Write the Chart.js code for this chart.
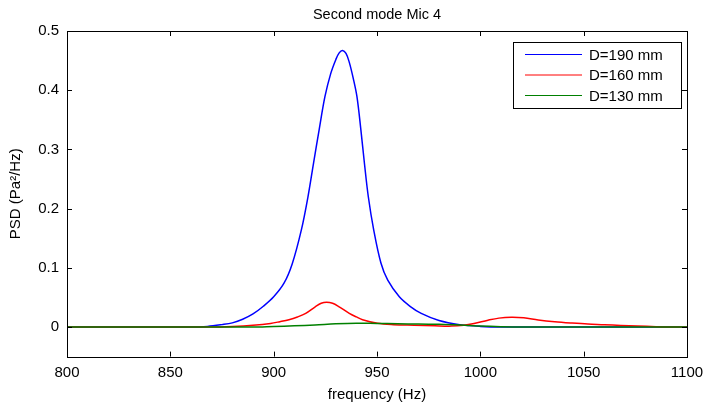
<!DOCTYPE html>
<html>
<head>
<meta charset="utf-8">
<script src="https://cdn.jsdelivr.net/npm/chart.js"></script>
<style>
  html, body { margin: 0; padding: 0; background: #fff; }
  #wrap { width: 703px; height: 407px; }
</style>
</head>
<body>
<div id="wrap"><canvas id="psd" width="703" height="407"></canvas></div>
<script>
// data
const seriesLabels = ["D=190 mm", "D=160 mm", "D=130 mm"];
const seriesColors = ["#0000ff", "#ff0000", "#008000"];

const freq190 = [800, 860, 868, 875, 880, 885, 890, 895, 900, 905, 909, 913.4, 916.6, 919.3, 922.0, 924.8, 927.6, 930.1, 931.7, 933.3, 935, 936.6, 938.5, 940.3, 942.2, 943.9, 945.8, 948.4, 951.9, 955.2, 960.8, 966, 971.4, 980, 990, 1000, 1010, 1100];
const psd190  = [0, 0, 0.001, 0.004, 0.007, 0.013, 0.022, 0.035, 0.051, 0.074, 0.107, 0.164, 0.220, 0.277, 0.333, 0.389, 0.428, 0.452, 0.463, 0.467, 0.462, 0.447, 0.420, 0.389, 0.333, 0.277, 0.220, 0.164, 0.108, 0.079, 0.051, 0.035, 0.023, 0.011, 0.004, 0.001, 0, 0];

const freq160 = [800, 870, 880, 890, 898.5, 903, 907.4, 911.5, 915.5, 920.1, 923, 925.6, 928.5, 931.7, 936.6, 940, 943, 950.3, 958, 968, 978, 986, 992, 997, 1003.7, 1009, 1015, 1021, 1028, 1036, 1044, 1052, 1060, 1068, 1076, 1085, 1092, 1100];
const psd160  = [0, 0, 0.001, 0.003, 0.006, 0.009, 0.0124, 0.017, 0.023, 0.034, 0.040, 0.0417, 0.040, 0.034, 0.023, 0.017, 0.0124, 0.0062, 0.004, 0.003, 0.002, 0.0015, 0.003, 0.006, 0.0115, 0.015, 0.0164, 0.0155, 0.012, 0.009, 0.0068, 0.005, 0.004, 0.0027, 0.0017, 0.0005, 0, 0];

const freq130 = [800, 890, 900, 910, 920, 930, 940, 950, 960, 970, 980, 988, 995, 1000, 1010, 1020, 1100];
const psd130  = [0, 0, 0.001, 0.002, 0.0035, 0.0055, 0.0065, 0.006, 0.0055, 0.005, 0.0045, 0.004, 0.0025, 0.0015, 0.0005, 0, 0];

const xTicks = [800, 850, 900, 950, 1000, 1050, 1100];
const yTicks = [0, 0.1, 0.2, 0.3, 0.4, 0.5];

const FONT = "'Liberation Sans', Arial, sans-serif";

function pts(xs, ys) {
    return xs.map((x, i) => ({ x: x, y: ys[i] }));
}

// box, inward ticks and a matlab style legend
const matlabFrame = {
    id: "matlabFrame",
    afterDraw(chart) {
        const ctx = chart.ctx;
        const a = chart.chartArea;
        const xs = chart.scales.x, ys = chart.scales.y;
        ctx.save();
        ctx.strokeStyle = "#000";
        ctx.lineWidth = 1;
        ctx.strokeRect(Math.round(a.left) + 0.5, Math.round(a.top) + 0.5,
                       Math.round(a.right - a.left), Math.round(a.bottom - a.top));
        ctx.beginPath();
        xTicks.forEach(v => {
            const px = Math.round(xs.getPixelForValue(v)) + 0.5;
            ctx.moveTo(px, a.bottom); ctx.lineTo(px, a.bottom - 5);
            ctx.moveTo(px, a.top); ctx.lineTo(px, a.top + 5);
        });
        yTicks.forEach(v => {
            const py = Math.round(ys.getPixelForValue(v)) + 0.5;
            ctx.moveTo(a.left, py); ctx.lineTo(a.left + 5, py);
            ctx.moveTo(a.right, py); ctx.lineTo(a.right - 5, py);
        });
        ctx.stroke();

        // legend
        const w = 168, h = 66;
        const lx = Math.round(a.right) - 6 - w, ly = Math.round(a.top) + 11;
        ctx.fillStyle = "#fff";
        ctx.fillRect(lx, ly, w, h);
        ctx.strokeStyle = "#000";
        ctx.strokeRect(lx + 0.5, ly + 0.5, w, h);
        ctx.font = "15px " + FONT;
        ctx.textBaseline = "middle";
        ctx.textAlign = "left";
        chart.data.datasets.forEach((ds, i) => {
            const ry = ly + 12.5 + i * 20.5;
            ctx.strokeStyle = ds.borderColor;
            ctx.beginPath();
            ctx.moveTo(lx + 12, ry);
            ctx.lineTo(lx + 69, ry);
            ctx.stroke();
            ctx.fillStyle = "#000";
            ctx.fillText(ds.label, lx + 76, ry + 1);
        });
        ctx.restore();
    }
};

new Chart(document.getElementById("psd"), {
    type: "line",
    data: {
        datasets: [
            { label: seriesLabels[0], data: pts(freq190, psd190), borderColor: seriesColors[0], order: 2 },
            { label: seriesLabels[1], data: pts(freq160, psd160), borderColor: seriesColors[1], order: 1 },
            { label: seriesLabels[2], data: pts(freq130, psd130), borderColor: seriesColors[2], order: 0 }
        ]
    },
    options: {
        responsive: false,
        animation: false,
        layout: { padding: { left: 0, right: 16, top: 0, bottom: 0 } },
        elements: {
            point: { radius: 0 },
            line: { borderWidth: 1.5, tension: 0.35, fill: false }
        },
        plugins: {
            legend: { display: false },
            tooltip: { enabled: false },
            title: {
                display: true,
                fullSize: false,
                text: "Second mode Mic 4",
                color: "#000",
                font: { family: FONT, size: 14.5, weight: "normal", lineHeight: 1.2 },
                padding: { top: 6, bottom: 7.6 }
            }
        },
        scales: {
            x: {
                type: "linear",
                min: 800,
                max: 1100,
                afterFit: s => { s.height = 50.4; s.paddingLeft = 0; s.paddingRight = 0; },
                afterBuildTicks: s => { s.ticks = xTicks.map(v => ({ value: v })); },
                grid: { display: false, drawTicks: false },
                border: { display: false },
                ticks: {
                    color: "#000", padding: 7, maxRotation: 0,
                    font: { family: FONT, size: 15 },
                    callback: v => String(v)
                },
                title: {
                    display: true,
                    text: "frequency (Hz)",
                    color: "#000",
                    font: { family: FONT, size: 15, lineHeight: 1.2 },
                    padding: { top: 0, bottom: 3 }
                }
            },
            y: {
                type: "linear",
                min: -0.05,
                max: 0.5,
                afterFit: s => { s.width = 67; },
                afterBuildTicks: s => { s.ticks = yTicks.map(v => ({ value: v })); },
                grid: { display: false, drawTicks: false },
                border: { display: false },
                ticks: { color: "#000", padding: 8, font: { family: FONT, size: 15 } },
                title: {
                    display: true,
                    text: "PSD (Pa²/Hz)",
                    color: "#000",
                    font: { family: FONT, size: 15, lineHeight: 1.2 },
                    padding: { top: 7, bottom: 0 }
                }
            }
        }
    },
    plugins: [matlabFrame]
});
</script>
</body>
</html>
